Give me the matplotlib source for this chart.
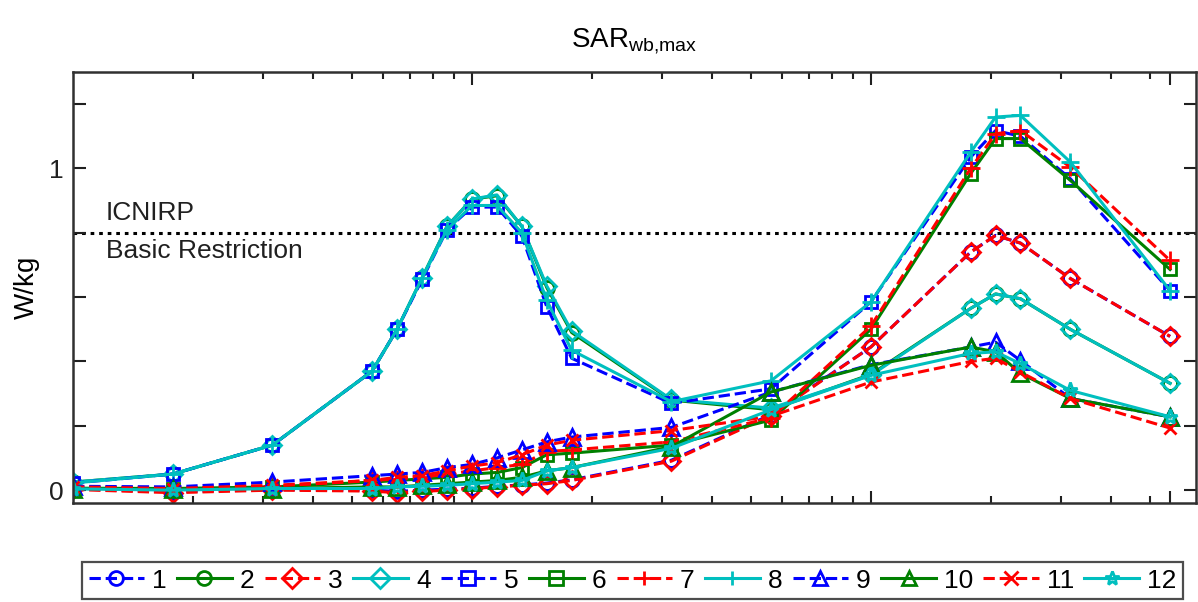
import matplotlib
matplotlib.use('Agg')
import matplotlib.pyplot as plt
from matplotlib.ticker import FixedLocator, NullFormatter, FixedFormatter

plt.rcParams['font.family'] = ['Liberation Sans', 'DejaVu Sans']
plt.rcParams['mathtext.fontset'] = 'custom'
plt.rcParams['mathtext.rm'] = 'Liberation Sans'
plt.rcParams['mathtext.it'] = 'Liberation Sans'

# ---------------- data ----------------
freq_mhz = [10, 17.8, 31.6, 56.2, 64.9, 75.0, 86.6, 100, 115.5, 133.4, 154, 177.8,
            316, 562, 1000, 1778, 2054, 2371, 3162, 5623]

sar_1 = [0.004, -0.005, 0.002, 0.0, -0.004, 0.0, 0.003, 0.006, 0.012, 0.016, 0.022, 0.032,
         0.093, 0.235, 0.445, 0.74, 0.792, 0.768, 0.658, 0.478]
sar_2 = [0.025, 0.05, 0.14, 0.37, 0.50, 0.66, 0.82, 0.905, 0.915, 0.82, 0.63, 0.49,
         0.28, 0.25, 0.36, 0.565, 0.61, 0.595, 0.50, 0.332]
sar_3 = [0.002, -0.008, 0.0, -0.003, -0.008, -0.004, 0.0, 0.005, 0.01, 0.015, 0.02, 0.03,
         0.09, 0.232, 0.445, 0.74, 0.792, 0.768, 0.658, 0.478]
sar_4 = [0.025, 0.05, 0.14, 0.37, 0.50, 0.66, 0.82, 0.905, 0.918, 0.82, 0.635, 0.495,
         0.282, 0.255, 0.357, 0.565, 0.61, 0.595, 0.50, 0.332]
sar_5 = [0.022, 0.05, 0.14, 0.37, 0.50, 0.655, 0.81, 0.88, 0.88, 0.79, 0.57, 0.41,
         0.27, 0.315, 0.585, 1.035, 1.118, 1.10, 0.968, 0.62]
sar_6 = [0.006, 0.005, 0.01, 0.025, 0.03, 0.035, 0.04, 0.05, 0.055, 0.07, 0.11, 0.115,
         0.14, 0.218, 0.50, 0.984, 1.093, 1.093, 0.963, 0.686]
sar_7 = [0.01, 0.006, 0.012, 0.03, 0.035, 0.04, 0.05, 0.06, 0.07, 0.08, 0.12, 0.125,
         0.15, 0.225, 0.51, 1.0, 1.108, 1.118, 1.004, 0.714]
sar_8 = [0.022, 0.05, 0.14, 0.37, 0.50, 0.66, 0.81, 0.885, 0.885, 0.80, 0.59, 0.435,
         0.275, 0.34, 0.585, 1.05, 1.16, 1.165, 1.02, 0.62]
sar_9 = [0.012, 0.01, 0.025, 0.045, 0.05, 0.055, 0.07, 0.08, 0.10, 0.125, 0.15, 0.165,
         0.195, 0.305, 0.39, 0.445, 0.46, 0.403, 0.285, 0.228]
sar_10 = [0.005, 0.004, 0.005, 0.01, 0.01, 0.015, 0.02, 0.025, 0.03, 0.04, 0.06, 0.07,
          0.135, 0.305, 0.388, 0.445, 0.43, 0.363, 0.285, 0.228]
sar_11 = [0.01, 0.005, 0.015, 0.03, 0.04, 0.045, 0.06, 0.075, 0.085, 0.11, 0.14, 0.155,
          0.185, 0.23, 0.336, 0.40, 0.41, 0.367, 0.285, 0.193]
sar_12 = [0.004, 0.0, 0.005, 0.005, 0.01, 0.012, 0.015, 0.02, 0.025, 0.03, 0.06, 0.07,
          0.13, 0.25, 0.357, 0.425, 0.43, 0.393, 0.31, 0.228]

series_labels = ['1', '2', '3', '4', '5', '6', '7', '8', '9', '10', '11', '12']
series_values = [sar_1, sar_2, sar_3, sar_4, sar_5, sar_6, sar_7, sar_8, sar_9, sar_10, sar_11, sar_12]

icnirp_limit = 0.8
y_tick_values = [0, 0.2, 0.4, 0.6, 0.8, 1.0, 1.2]
y_tick_labels = ['0', '', '', '', '', '1', '']

# ---------------- styles ----------------
colors = ['b', 'g', 'r', 'c'] * 3
styles = ['--', '-', '--', '-'] * 3
markers = ['o', 'o', 'D', 'D', 's', 's', '+', '+', '^', '^', 'x', '*']
msizes = [10, 10, 9, 9, 9, 9, 13, 13, 11, 11, 9, 11]

W, H = 1198, 602
fig = plt.figure(figsize=(W / 100, H / 100), dpi=100)
ax = fig.add_axes([73 / W, (H - 503) / H, (1196 - 73) / W, (503 - 72) / H])

handles = []
for vals, lab, c, ls, m, ms in zip(series_values, series_labels, colors, styles, markers, msizes):
    h, = ax.plot(freq_mhz, vals, color=c, linestyle=ls, linewidth=2.2,
                 marker=m, markersize=ms, markerfacecolor='none',
                 markeredgecolor=c, markeredgewidth=2.0, label=lab)
    handles.append(h)

ax.axhline(icnirp_limit, color='black', linestyle=(0, (1.2, 1.6)), linewidth=2.2, zorder=0.5)
ax.text(0.029, icnirp_limit + 0.025, 'ICNIRP', transform=ax.get_yaxis_transform(),
        fontsize=19, va='bottom', ha='left', color='#202020')
ax.text(0.029, icnirp_limit - 0.018, 'Basic Restriction', transform=ax.get_yaxis_transform(),
        fontsize=19, va='top', ha='left', color='#202020')

ax.set_xscale('log')
ax.set_xlim(10, 6530)
ax.set_ylim(-0.04, 1.3)

ax.xaxis.set_major_locator(FixedLocator([100, 1000, 5623]))
minor = [m * d for d in (10, 100) for m in range(2, 10)] + [2000, 3000, 4000, 5000]
ax.xaxis.set_minor_locator(FixedLocator(minor))
ax.xaxis.set_major_formatter(NullFormatter())
ax.xaxis.set_minor_formatter(NullFormatter())

ax.yaxis.set_major_locator(FixedLocator(y_tick_values))
ax.yaxis.set_major_formatter(FixedFormatter(y_tick_labels))
ax.yaxis.set_minor_locator(FixedLocator([]))

ax.tick_params(which='both', direction='in', top=True, right=True, width=1.5, colors='#202020')
ax.tick_params(axis='x', which='major', length=9)
ax.tick_params(axis='x', which='minor', length=5)
ax.tick_params(axis='y', which='major', length=9, labelsize=19, pad=7)
for s in ax.spines.values():
    s.set_linewidth(1.8)
    s.set_color('#303030')

ax.set_ylabel('W/kg', fontsize=20, labelpad=6)
ax.set_title('SAR$_{\\mathrm{wb{,}max}}$', fontsize=20, pad=18)

leg = fig.legend(handles=handles, labels=series_labels, ncol=12, loc='upper left',
                 bbox_to_anchor=(82 / W, 1 - 562 / H), bbox_transform=fig.transFigure,
                 frameon=True, fancybox=False, edgecolor='#202020', fontsize=19,
                 handlelength=2.1, handletextpad=0.3, columnspacing=0.38,
                 borderaxespad=0.0, borderpad=0.25, numpoints=1)
leg.get_frame().set_linewidth(1.6)
for h in leg.legend_handles:
    h.set_markersize(10)

fig.savefig('out.png', dpi=100)
